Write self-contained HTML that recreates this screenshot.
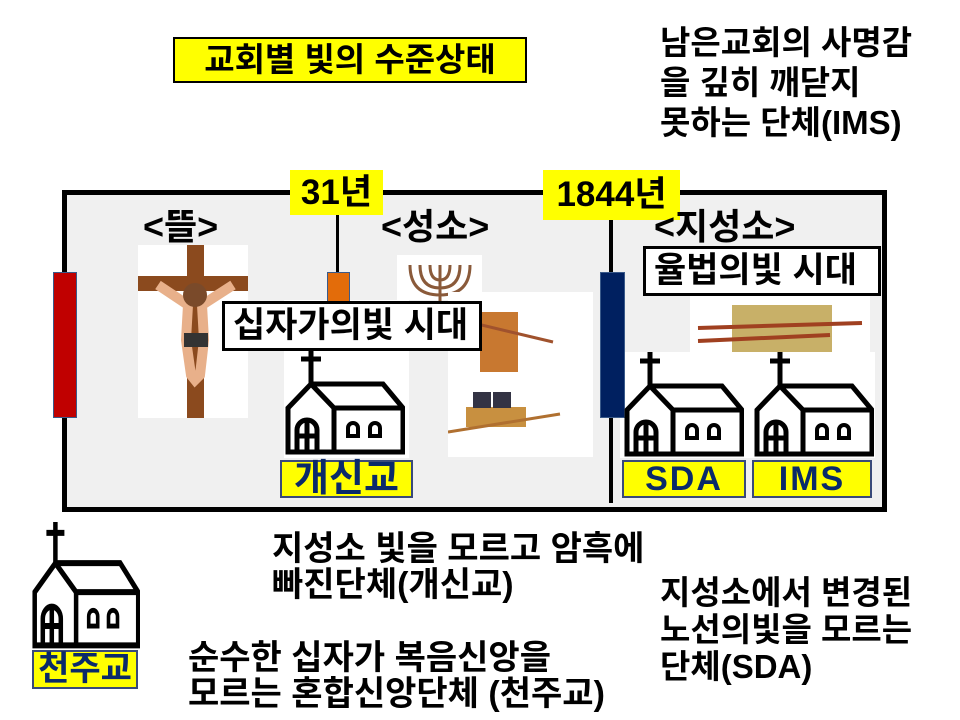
<!DOCTYPE html>
<html><head><meta charset="utf-8"><style>
body{margin:0;width:960px;height:720px;background:#fff;position:relative;overflow:hidden;font-family:"Liberation Sans","Noto Sans CJK KR",sans-serif;font-weight:bold;}
.a{position:absolute;}
.t{position:absolute;font-size:34px;line-height:36px;color:#000;white-space:nowrap;}
.y{position:absolute;background:#ffff00;text-align:center;white-space:nowrap;}
.lab{position:absolute;background:#ffff00;border:2px solid #3a4a7a;color:#0a2a6a;text-align:center;white-space:nowrap;box-sizing:border-box;}
.wb{position:absolute;background:#fff;border:3px solid #000;box-sizing:border-box;white-space:nowrap;font-size:35px;padding-left:8px;}
</style></head><body>
<svg width="0" height="0" style="position:absolute"><defs>
<symbol id="ch" viewBox="0 0 120 105">
<g fill="none" stroke="#000" stroke-width="5" stroke-linejoin="miter">
<line x1="26" y1="0" x2="26" y2="34"/><line x1="16" y1="9" x2="36" y2="9"/>
<polygon points="3,58 26,34 98,34 118,58 118,102 3,102" fill="#fff"/>
<polyline points="26,34 49,58 118,58"/>
<line x1="49" y1="58" x2="49" y2="102"/>
<path d="M12,102 V80 A10,10 0 0 1 32,80 V102 M22,70 V102 M12,86 H32"/>
<path d="M63,86 V78 A5,5 0 0 1 73,78 V86 Z M85,86 V78 A5,5 0 0 1 95,78 V86 Z" stroke-width="4"/>
</g></symbol></defs></svg>

<div class="y" style="left:173px;top:37px;width:350px;height:42px;border:2px solid #000;font-size:33px;line-height:42px;">교회별 빛의 수준상태</div>
<div class="t" style="left:660px;top:23px;font-size:33px;line-height:40px;">남은교회의 사명감<br>을 깊히 깨닫지<br>못하는 단체(IMS)</div>

<div class="a" style="left:62px;top:190px;width:815px;height:312px;border:5px solid #000;background:#f0f0f0;"></div>
<div class="a" style="left:336px;top:195px;width:3px;height:110px;background:#000"></div>
<div class="a" style="left:609px;top:215px;width:4px;height:288px;background:#000"></div>

<div class="a" style="left:138px;top:245px;width:110px;height:173px;background:#fff"></div>
<svg class="a" style="left:138px;top:245px" width="110" height="173">
<rect x="49" y="0" width="17" height="173" fill="#8b4a1e"/><rect x="0" y="31" width="110" height="15" fill="#8b4a1e"/>
<path d="M20,40 L50,60 L48,95 L53,130 L57,135 L62,130 L66,95 L64,60 L95,40" fill="none" stroke="#e8b08a" stroke-width="10"/>
<circle cx="57" cy="50" r="12" fill="#7a4a2a"/><rect x="46" y="88" width="24" height="14" fill="#333"/>
</svg>
<div class="a" style="left:284px;top:300px;width:125px;height:158px;background:#fff"></div>
<div class="a" style="left:397px;top:255px;width:85px;height:45px;background:#fff"></div>
<svg class="a" style="left:400px;top:260px" width="80" height="45"><g stroke="#8a5a3a" stroke-width="3" fill="none"><path d="M40,5V45M10,5Q10,35 40,35Q70,35 70,5M20,5Q20,28 40,28Q60,28 60,5M30,5Q30,20 40,20Q50,20 50,5"/></g></svg>
<div class="a" style="left:448px;top:292px;width:145px;height:165px;background:#fff"></div>
<svg class="a" style="left:448px;top:292px" width="145" height="165">
<rect x="32" y="20" width="38" height="60" fill="#c87830"/><line x1="0" y1="25" x2="105" y2="50" stroke="#a0522d" stroke-width="3"/>
<rect x="18" y="115" width="60" height="20" fill="#c89040"/><rect x="25" y="100" width="18" height="16" fill="#334"/><rect x="45" y="100" width="18" height="16" fill="#334"/>
<line x1="0" y1="140" x2="112" y2="122" stroke="#b07030" stroke-width="3"/></svg>
<div class="a" style="left:690px;top:293px;width:180px;height:60px;background:#fff"></div>
<svg class="a" style="left:690px;top:293px" width="180" height="60"><rect x="42" y="12" width="100" height="48" fill="#c8b068"/><line x1="8" y1="35" x2="172" y2="30" stroke="#a04020" stroke-width="4"/><line x1="8" y1="48" x2="140" y2="42" stroke="#a04020" stroke-width="4"/></svg>
<div class="a" style="left:620px;top:352px;width:255px;height:106px;background:#fff"></div>

<div class="a" style="left:53px;top:272px;width:22px;height:144px;background:#c00000;border:1px solid #3a5a8a"></div>
<div class="a" style="left:327px;top:272px;width:21px;height:35px;background:#e36c0a;border:1px solid #3a5a8a"></div>
<div class="a" style="left:600px;top:272px;width:23px;height:144px;background:#002060;border:1px solid #3a5a8a"></div>

<div class="y" style="left:290px;top:170px;width:93px;height:45px;font-size:35px;line-height:45px;">31년</div>
<div class="y" style="left:543px;top:170px;width:137px;height:50px;font-size:35px;line-height:50px;">1844년</div>
<div class="t" style="left:143px;top:209px;font-size:36px;">&lt;뜰&gt;</div>
<div class="t" style="left:381px;top:209px;font-size:36px;">&lt;성소&gt;</div>
<div class="t" style="left:654px;top:209px;font-size:36px;">&lt;지성소&gt;</div>

<svg class="a" style="left:285px;top:350px" width="120" height="105"><use href="#ch"/></svg>
<svg class="a" style="left:624px;top:352px" width="120" height="105"><use href="#ch"/></svg>
<svg class="a" style="left:754px;top:352px" width="120" height="105"><use href="#ch"/></svg>
<svg class="a" style="left:32px;top:522px" width="108" height="127" viewBox="0 0 120 105" preserveAspectRatio="none"><use href="#ch"/></svg>

<div class="wb" style="left:222px;top:301px;width:260px;height:50px;line-height:44px;">십자가의빛 시대</div>
<div class="wb" style="left:643px;top:246px;width:238px;height:50px;line-height:44px;">율법의빛 시대</div>

<div class="lab" style="left:280px;top:460px;width:133px;height:38px;font-size:38px;line-height:34px;">개신교</div>
<div class="lab" style="left:622px;top:460px;width:124px;height:38px;font-size:34px;line-height:34px;letter-spacing:2px;">SDA</div>
<div class="lab" style="left:752px;top:460px;width:120px;height:38px;font-size:34px;line-height:34px;letter-spacing:2px;">IMS</div>
<div class="lab" style="left:32px;top:650px;width:106px;height:39px;font-size:34px;line-height:35px;">천주교</div>

<div class="t" style="left:272px;top:531px;">지성소 빛을 모르고 암흑에<br>빠진단체(개신교)</div>
<div class="t" style="left:660px;top:574px;font-size:33px;line-height:37px;">지성소에서 변경된<br>노선의빛을 모르는<br>단체(SDA)</div>
<div class="t" style="left:188px;top:640px;">순수한 십자가 복음신앙을<br>모르는 혼합신앙단체 (천주교)</div>
</body></html>
